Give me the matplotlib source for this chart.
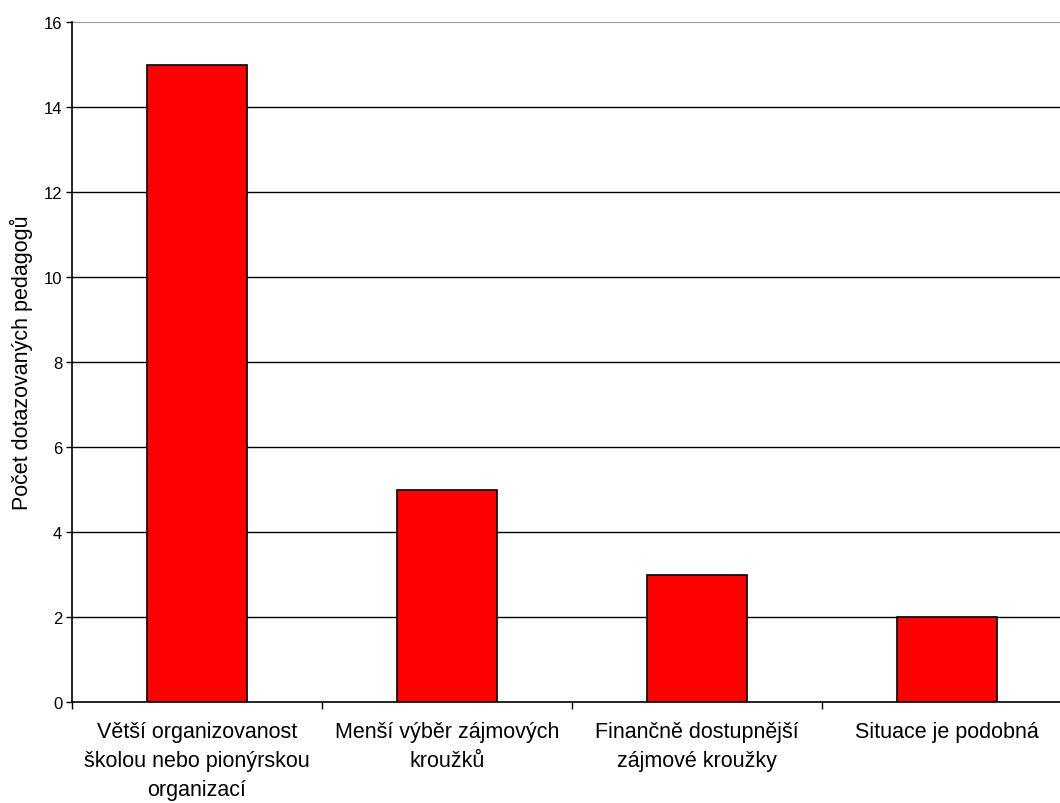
import numpy as np
import matplotlib.pyplot as plt

categories = ['Větší organizovanost\nškolou nebo pionýrskou\norganizací',
              'Menší výběr zájmových\nkroužků',
              'Finančně dostupnější\nzájmové kroužky',
              'Situace je podobná']
values = [15, 5, 3, 2]

plt.rcParams['font.family'] = ['Liberation Sans', 'DejaVu Sans']

fig = plt.figure(figsize=(10.6, 8.04), dpi=100)
# axes extends slightly past the right edge, as in the original
ax = fig.add_axes([72/1060, 101/804, 1000/1060, 680/804])

x = np.arange(len(values))
ax.bar(x, values, width=0.4, color='#ff0000', edgecolor='black', linewidth=1.2, zorder=3)

ax.set_xlim(-0.5, len(values) - 0.5)
ax.set_ylim(0, 16)
ax.set_yticks(np.arange(0, 17, 2))
ax.tick_params(axis='y', labelsize=12, length=4, width=1, direction='out', pad=3)
for yv in range(2, 16, 2):
    ax.axhline(yv, color='black', linewidth=1, zorder=1)
ax.axhline(16, color='#999999', linewidth=1.5, zorder=1)

ax.set_xticks(np.arange(-0.5, len(values), 1.0))
ax.set_xticklabels([])
ax.tick_params(axis='x', length=5, width=1, direction='out')
ax.set_xticks(x, minor=True)
ax.set_xticklabels(categories, minor=True, fontsize=15.5, linespacing=1.5, va='top')
ax.tick_params(axis='x', which='minor', length=0, pad=14)

ax.spines['right'].set_visible(False)
ax.spines['top'].set_visible(False)
ax.spines['left'].set_linewidth(1.2)
ax.spines['bottom'].set_linewidth(1.2)

ax.set_ylabel('Počet dotazovaných pedagogů', fontsize=15.5, labelpad=8)

fig.savefig('out.png', dpi=100)
